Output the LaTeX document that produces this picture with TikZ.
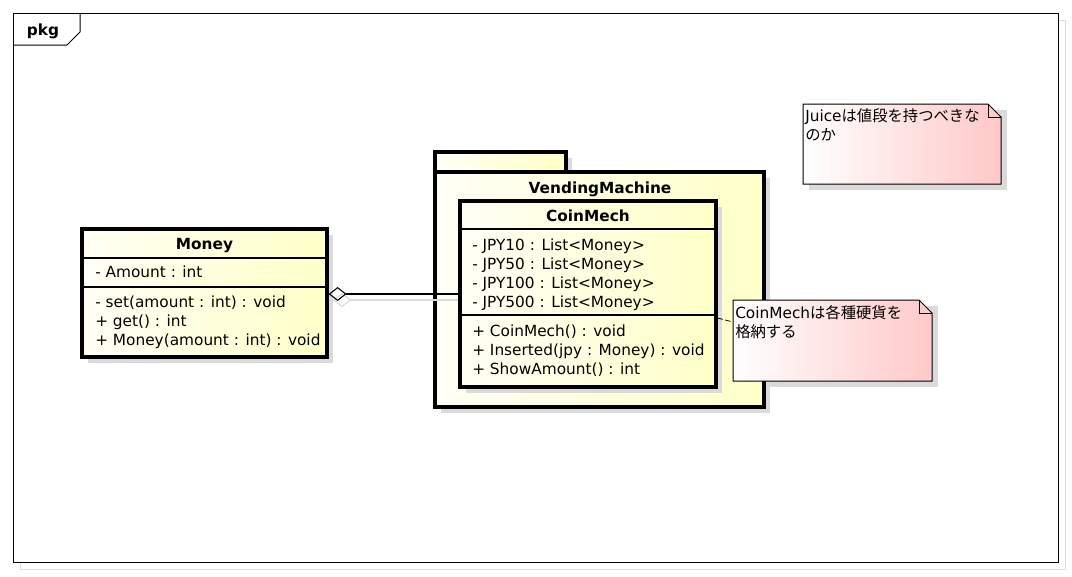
\documentclass[tikz,border=0pt]{standalone}
\usepackage{fontspec}
\setmainfont{DejaVu Sans}
\newfontfamily\jp{Noto Sans CJK JP}
\usetikzlibrary{fit,arrows.meta}
\definecolor{clsL}{HTML}{FFFFF6}
\definecolor{clsR}{HTML}{FFFFC8}
\definecolor{noteL}{HTML}{FFFFFF}
\definecolor{noteR}{HTML}{FFC8C8}
\definecolor{shadowc}{HTML}{DADADA}
\definecolor{framegray}{HTML}{DDDDDD}
\tikzset{
  thickbox/.style={draw, line width=2.4pt, left color=clsL, right color=clsR, inner sep=0pt},
  notebox/.style={draw=none, inner sep=0pt},
  sepline/.style={line width=0.8pt},
  txt/.style={anchor=base west, inner sep=0pt, font=\fontsize{11.5}{13}\selectfont},
  ttl/.style={anchor=base, inner sep=0pt, font=\fontsize{11.5}{13}\selectfont\bfseries},
  shadowfill/.style={fill=shadowc, draw=none},
  assoc/.style={line width=0.8pt, -{Diamond[open, length=13.5pt, width=10.5pt, line width=0.8pt]}},
  notelink/.style={line width=0.6pt, dash pattern=on 4pt off 2pt},
}
\begin{document}
\begin{tikzpicture}[x=0.75pt,y=-0.75pt]
\useasboundingbox (0,0) rectangle (1072,576);
% frame
\draw[framegray, line width=0.75pt] (20,20) rectangle (1065,569);
\draw[line width=0.75pt, fill=white] (13,13) rectangle (1058,562);
\draw[line width=0.75pt] (13,45) -- (67,45) -- (80,32) -- (80,13);
\node[inner sep=0pt, anchor=base, font=\fontsize{11.5}{13}\selectfont\bfseries] (pkg) at (43,35) {pkg};

% shadows
\fill[shadowfill] (88,235) rectangle (333,363);
\fill[shadowfill] (441,158) rectangle (572,178);
\fill[shadowfill] (441,178) rectangle (770,413);
\fill[shadowfill] (739,306) rectangle (938,387);
\fill[shadowfill] (809,110) rectangle (1007,190);

% package VendingMachine
\coordinate (tabA) at (435,152); \coordinate (tabB) at (566,172);
\node[fit=(tabA)(tabB), thickbox] (vmtab) {};
\coordinate (vmA) at (435,172); \coordinate (vmB) at (764,407);
\node[fit=(vmA)(vmB), thickbox] (vm) {};
\node[ttl] (vmtitle) at (600,193) {VendingMachine};

% Money class
\coordinate (mA) at (82,229); \coordinate (mB) at (327,357);
\node[fit=(mA)(mB), thickbox] (money) {};
\draw[sepline] (money.west |- 0,258) -- (money.east |- 0,258);
\draw[sepline] (money.west |- 0,287) -- (money.east |- 0,287);
\node[ttl] (mt) at (204.5,249) {Money};
\node[txt] (m1) at (95,277) {- Amount : int};
\node[txt] (m2) at (95,307) {- set(amount : int) : void};
\node[txt] (m3) at (95,326) {+ get() : int};
\node[txt] (m4) at (95,345) {+ Money(amount : int) : void};

% association shadow
\draw[shadowc, line width=0.8pt, -{Diamond[open, length=13.5pt, width=10.5pt, line width=0.8pt]}] (466,300) -- (333,300);

% CoinMech class
\fill[shadowfill] (466,207) rectangle (722,393);
\coordinate (cA) at (460,201); \coordinate (cB) at (716,387);
\node[fit=(cA)(cB), thickbox] (coinmech) {};
\draw[sepline] (coinmech.west |- 0,229) -- (coinmech.east |- 0,229);
\draw[sepline] (coinmech.west |- 0,315) -- (coinmech.east |- 0,315);
\node[ttl] (ct) at (588,221) {CoinMech};
\node[txt] (c1) at (472,250) {- JPY10 : List<Money>};
\node[txt] (c2) at (472,269) {- JPY50 : List<Money>};
\node[txt] (c3) at (472,288) {- JPY100 : List<Money>};
\node[txt] (c4) at (472,307) {- JPY500 : List<Money>};
\node[txt] (c5) at (472,336) {+ CoinMech() : void};
\node[txt] (c6) at (472,355) {+ Inserted(jpy : Money) : void};
\node[txt] (c7) at (472,374) {+ ShowAmount() : int};

% association
\draw[assoc] (coinmech.west) -- (money.east |- coinmech.west);

% note 1
\coordinate (n1A) at (733,300); \coordinate (n1B) at (932,381);
\node[fit=(n1A)(n1B), notebox] (note1) {};
\shade[left color=noteL, right color=noteR, draw=black, line width=0.75pt]
  (733,300) -- (919,300) -- (932,313) -- (932,381) -- (733,381) -- cycle;
\draw[line width=0.75pt] (919,300) -- (919,313) -- (932,313);
\node[txt] (n1l1) at (735,318) {CoinMech{\jp は各種硬貨を}};
\node[txt] (n1l2) at (735,337) {{\jp 格納する}};
\coordinate (la) at (0,318); \coordinate (lb) at (0,322);
\draw[notelink] (coinmech.east |- la) -- (note1.west |- lb);

% note 2
\coordinate (n2A) at (803,104); \coordinate (n2B) at (1001,184);
\node[fit=(n2A)(n2B), notebox] (note2) {};
\shade[left color=noteL, right color=noteR, draw=black, line width=0.75pt]
  (803,104) -- (988,104) -- (1001,117) -- (1001,184) -- (803,184) -- cycle;
\draw[line width=0.75pt] (988,104) -- (988,117) -- (1001,117);
\node[txt] (n2l1) at (805,121) {Juice{\jp は値段を持つべきな}};
\node[txt] (n2l2) at (805,140) {{\jp のか}};
\end{tikzpicture}
\end{document}
